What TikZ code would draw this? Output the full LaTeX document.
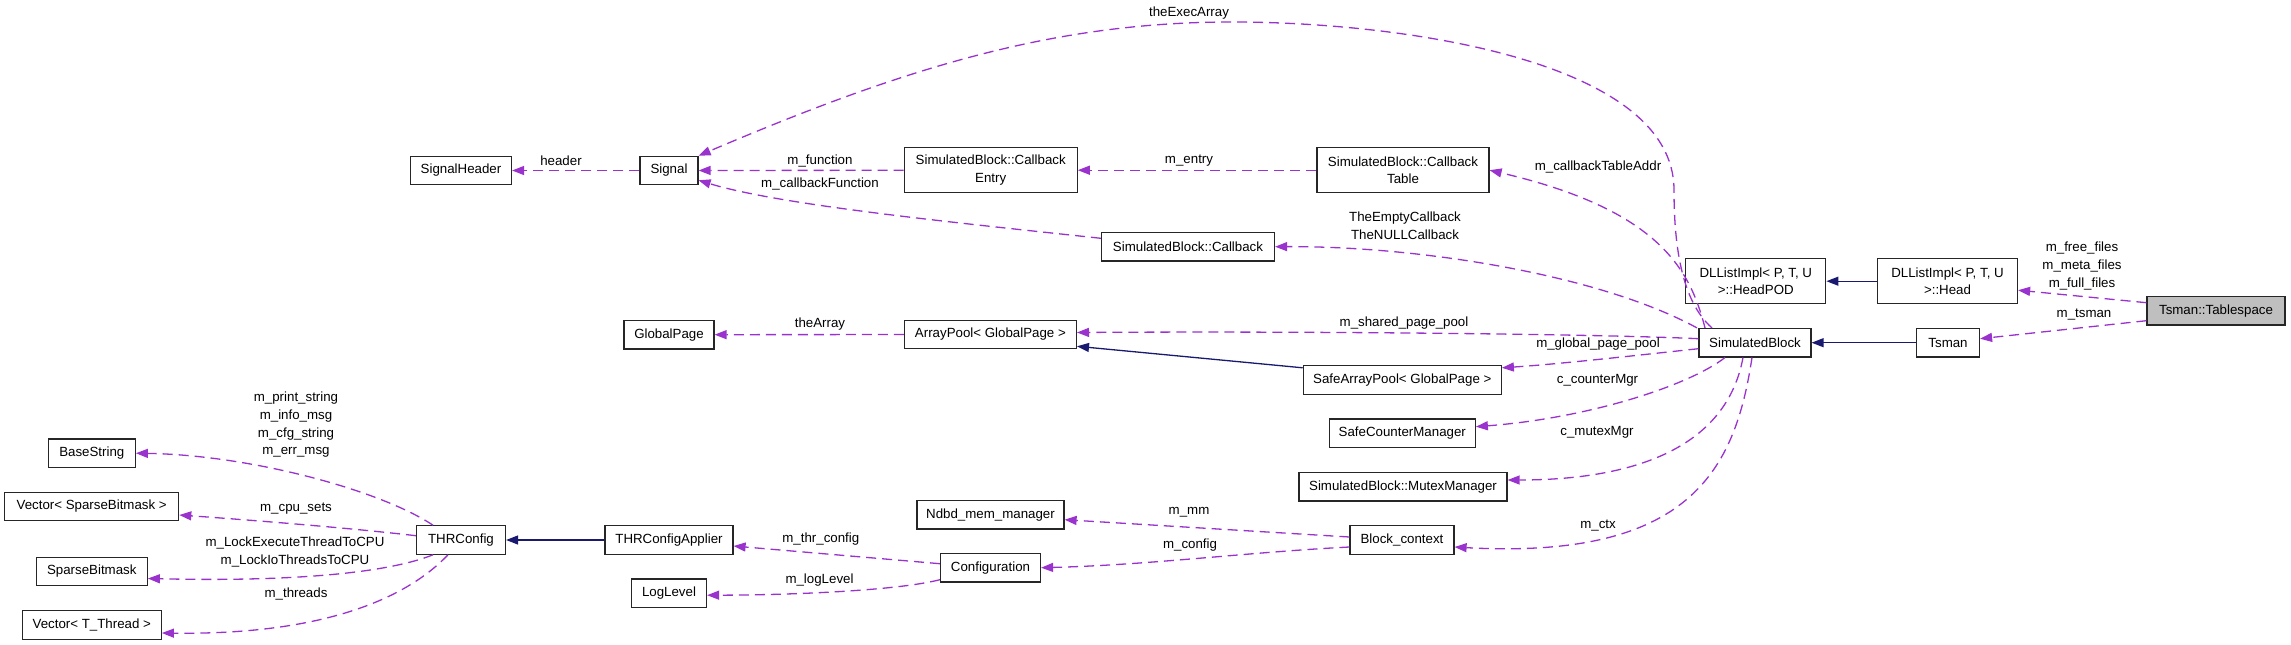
\documentclass[tikz,border=0pt]{standalone}
\usepackage{fontspec}
\setmainfont{Liberation Sans}
\usetikzlibrary{arrows.meta}
\definecolor{depc}{HTML}{9A32CD}
\definecolor{inhc}{HTML}{191970}
\definecolor{selc}{HTML}{BFBFBF}
\begin{document}
\begin{tikzpicture}[x=1pt,y=-1pt,
  font=\fontsize{13.3}{17.8}\selectfont,
  box/.style={draw=black!85, line width=1.2pt, fill=white, inner sep=0pt, minimum height=28.4pt, align=center},
  boxtwo/.style={box, minimum height=45pt},
  dep/.style={draw=depc, line width=1.3pt, dash pattern=on 10pt off 6pt, -{Triangle[length=12pt,width=9pt]}},
  inh/.style={draw=inhc, line width=1.3pt, -{Triangle[length=12pt,width=9pt]}},
  lbl/.style={inner sep=0pt, align=center}]
\useasboundingbox (0,0) rectangle (2291,645);
% nodes
\node[box, minimum width=101pt] (sh) at (461,170.5) {SignalHeader};
\node[box, minimum width=58pt] (sig) at (669,170.5) {Signal};
\node[boxtwo, minimum width=173pt] (cbe) at (990.7,170.2) {SimulatedBlock::Callback\\Entry};
\node[boxtwo, minimum width=172pt] (cbt) at (1403,170.2) {SimulatedBlock::Callback\\Table};
\node[box, minimum width=173pt] (cb) at (1188,246.7) {SimulatedBlock::Callback};
\node[box, minimum width=172pt] (ap) at (990.4,334.5) {ArrayPool< GlobalPage >};
\node[box, minimum width=90pt] (gp) at (669,334.7) {GlobalPage};
\node[box, minimum width=198pt] (sap) at (1402.3,380) {SafeArrayPool< GlobalPage >};
\node[box, minimum width=146pt] (scm) at (1402.3,433.2) {SafeCounterManager};
\node[box, minimum width=208pt] (mm) at (1403,486.7) {SimulatedBlock::MutexManager};
\node[box, minimum width=147pt] (nmm) at (990.5,514.7) {Ndbd\_mem\_manager};
\node[box, minimum width=104pt] (bc) at (1402,540) {Block\_context};
\node[box, minimum width=100pt] (conf) at (990.5,567.7) {Configuration};
\node[box, minimum width=128pt] (tca) at (669,540) {THRConfigApplier};
\node[box, minimum width=75pt] (ll) at (669,593.2) {LogLevel};
\node[box, minimum width=89pt] (thr) at (461,540) {THRConfig};
\node[box, minimum width=87pt] (bs) at (91.8,453.2) {BaseString};
\node[box, minimum width=174pt] (vsb) at (91.7,506.5) {Vector< SparseBitmask >};
\node[box, minimum width=111pt] (sbm) at (91.8,571.5) {SparseBitmask};
\node[box, minimum width=139pt] (vtt) at (91.8,625) {Vector< T\_Thread >};
\node[box, minimum width=112pt] (sb) at (1755,342.7) {SimulatedBlock};
\node[boxtwo, minimum width=140pt] (hpod) at (1755.8,281.2) {DLListImpl< P, T, U\\>::HeadPOD};
\node[boxtwo, minimum width=140pt] (head) at (1947.5,281.2) {DLListImpl< P, T, U\\>::Head};
\node[box, minimum width=63pt] (ts) at (1948,342.7) {Tsman};
\node[box, minimum width=138pt, fill=selc] (tbs) at (2216,310.7) {Tsman::Tablespace};
% edges
\draw[dep] (sig) -- (sh);
\draw[dep] (cbe) -- (sig);
\draw[dep] ([yshift=8.4pt]cb.west) .. controls (950,222) and (780,205) .. ([yshift=5pt]sig.south east);
\draw[dep] (cbt) -- (cbe);
\draw[dep] ([xshift=-43pt]sb.north) .. controls (1680,300) and (1674,240) .. (1674,190) .. controls (1674,60) and (1400,22) .. (1232,22) .. controls (1050,22) and (900,70) .. (sig.north east);
\draw[dep] ([xshift=-50pt]sb.north) .. controls (1690,270) and (1660,210) .. (cbt.east);
\draw[dep] ([xshift=-58pt]sb.north) .. controls (1600,275) and (1420,246) .. (cb.east);
\draw[dep] ([yshift=4pt]sb.west) .. controls (1600,334) and (1300,331) .. ([yshift=2pt]ap.east);
\draw[dep] ([yshift=-6pt]sb.west) .. controls (1640,355) and (1560,364) .. ([yshift=-2.6pt]sap.north east);
\draw[inh] ([yshift=-2.6pt]sap.north west) -- ([yshift=3pt]ap.south east);
\draw[dep] ([xshift=-30pt]sb.south) .. controls (1690,385) and (1590,418) .. ([yshift=6.5pt]scm.east);
\draw[dep] ([xshift=-12pt]sb.south) .. controls (1725,455) and (1620,480) .. ([yshift=6.7pt]mm.east);
\draw[dep] ([xshift=-3pt]sb.south) .. controls (1735,470) and (1690,560) .. ([yshift=-7pt]bc.east);
\draw[dep] ([yshift=3pt]bc.west) -- ([yshift=-5pt]nmm.east);
\draw[dep] ([yshift=-7pt]bc.west) .. controls (1250,552) and (1150,565) .. (conf.east);
\draw[dep] ([yshift=4pt]conf.west) -- ([yshift=-6pt]tca.east);
\draw[dep] ([yshift=-12pt]conf.west) .. controls (900,590) and (800,595) .. ([yshift=-2pt]ll.east);
\draw[inh] (tca) -- (thr);
\draw[dep] (ap) -- (gp);
\draw[dep] ([xshift=-28pt]thr.north) .. controls (380,490) and (250,455) .. (bs.east);
\draw[dep] ([yshift=4.3pt]thr.west) .. controls (350,528) and (250,520) .. ([yshift=-8.5pt]vsb.east);
\draw[dep] ([xshift=-28pt]thr.south) .. controls (390,572) and (300,582) .. ([yshift=-7pt]sbm.east);
\draw[dep] ([xshift=-13pt]thr.south) .. controls (405,600) and (320,635) .. ([yshift=-8pt]vtt.east);
\draw[inh] (head) -- (hpod);
\draw[inh] (ts) -- (sb);
\draw[dep] ([yshift=8pt]tbs.west) -- ([yshift=-9pt]head.east);
\draw[dep] ([yshift=-10pt]tbs.west) -- ([yshift=4pt]ts.east);
% labels
\node[lbl] (l1) at (561,161) {header};
\node[lbl] (l2) at (820,161) {m\_function};
\node[lbl] (l3) at (820,183.7) {m\_callbackFunction};
\node[lbl] (l4) at (1189,161) {m\_entry};
\node[lbl] (l5) at (1189,12.7) {theExecArray};
\node[lbl] (l6) at (1598,166.7) {m\_callbackTableAddr};
\node[lbl] (l7) at (1405,225.5) {TheEmptyCallback\\TheNULLCallback};
\node[lbl] (l8) at (1404,322.7) {m\_shared\_page\_pool};
\node[lbl] (l9) at (1598,344) {m\_global\_page\_pool};
\node[lbl] (l10) at (1597.5,380.7) {c\_counterMgr};
\node[lbl] (l11) at (1597,432.3) {c\_mutexMgr};
\node[lbl] (l12) at (1598,526) {m\_ctx};
\node[lbl] (l13) at (820,324.3) {theArray};
\node[lbl] (l14) at (1189,512.7) {m\_mm};
\node[lbl] (l15) at (1190,545) {m\_config};
\node[lbl] (l16) at (820.8,538.7) {m\_thr\_config};
\node[lbl] (l17) at (819.5,580) {m\_logLevel};
\node[lbl] (l18) at (296,424.7) {m\_print\_string\\m\_info\_msg\\m\_cfg\_string\\m\_err\_msg};
\node[lbl] (l19) at (296,509) {m\_cpu\_sets};
\node[lbl] (l20) at (295,552) {m\_LockExecuteThreadToCPU\\m\_LockIoThreadsToCPU};
\node[lbl] (l21) at (296,594.3) {m\_threads};
\node[lbl] (l22) at (2082,266.2) {m\_free\_files\\m\_meta\_files\\m\_full\_files};
\node[lbl] (l23) at (2084,314.7) {m\_tsman};
\end{tikzpicture}
\end{document}
